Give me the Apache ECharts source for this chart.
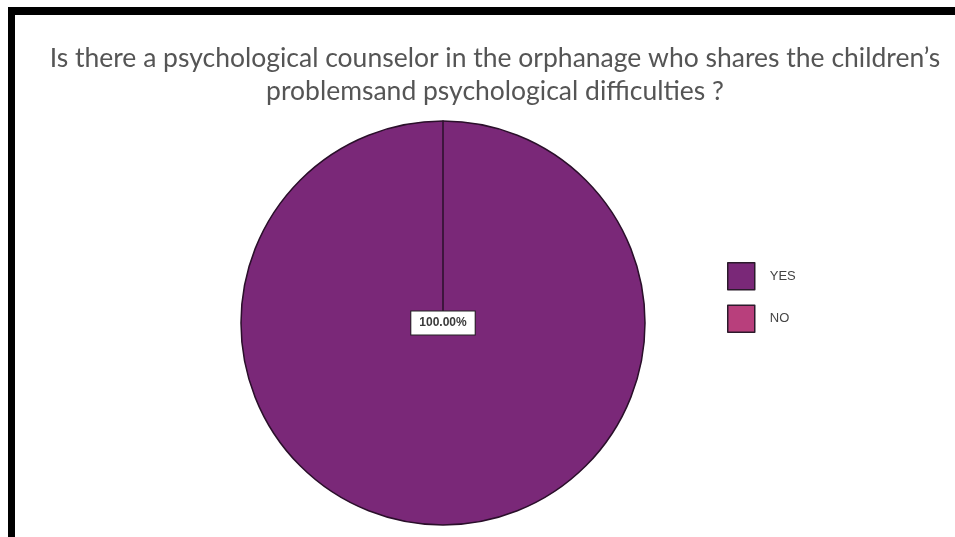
<!DOCTYPE html>
<html>
<head>
<meta charset="utf-8">
<script src="https://cdn.jsdelivr.net/npm/echarts@6/dist/echarts.min.js"></script>
<style>html,body{margin:0;padding:0;background:#fff}#c{width:955px;height:537px}</style>
</head>
<body>
<div id="c"></div>
<script>
const titleLines = ["Is there a psychological counselor in the orphanage who shares the children\u2019s", "problemsand psychological difficulties ?"];
const categories = ["YES", "NO"];
const values = [100, 0];
const colors = ["#7a2878", "#b83f7c"];

const chart = echarts.init(document.getElementById('c'), null, {renderer: 'canvas'});
const data = categories.map((c, i) => ({
  name: c,
  value: values[i],
  itemStyle: {color: colors[i]},
  label: {show: values[i] > 0}
}));
chart.setOption({
  animation: false,
  backgroundColor: '#ffffff',
  title: {
    text: titleLines.join('\n'),
    left: 490,
    top: 37,
    textAlign: 'center',
    textStyle: {fontFamily: 'Lato', fontSize: 26.5, fontWeight: 'normal', color: '#555555', lineHeight: 33}
  },
  legend: {
    orient: 'vertical',
    left: 727,
    top: 262,
    padding: 0,
    itemWidth: 27,
    itemHeight: 27,
    itemGap: 14,
    icon: 'rect',
    itemStyle: {borderColor: '#2b1a2b', borderWidth: 1.5},
    textStyle: {fontFamily: 'Liberation Sans Narrow, Arial Narrow, sans-serif', fontSize: 13, color: '#444', padding: [0, 0, 4, 10]},
    data: categories
  },
  graphic: [
    {type: 'rect', shape: {x: 8, y: 7, width: 947, height: 8}, style: {fill: '#000'}},
    {type: 'rect', shape: {x: 8, y: 7, width: 7, height: 530}, style: {fill: '#000'}}
  ],
  series: [{
    type: 'pie',
    center: [443, 323],
    radius: 202,
    startAngle: 90,
    clockwise: true,
    stillShowZeroSum: true,
    avoidLabelOverlap: false,
    itemStyle: {borderColor: '#2a0f2a', borderWidth: 1.5},
    label: {
      position: 'center',
      formatter: p => p.percent.toFixed(2) + '%',
      fontFamily: 'Arial, Liberation Sans, sans-serif',
      fontSize: 12,
      fontWeight: 'bold',
      color: '#3a3a3a',
      backgroundColor: '#fff',
      borderColor: '#222',
      borderWidth: 1,
      padding: [6, 8, 5, 8]
    },
    labelLine: {show: false},
    emphasis: {disabled: true},
    data: data
  }]
});
</script>
</body>
</html>
